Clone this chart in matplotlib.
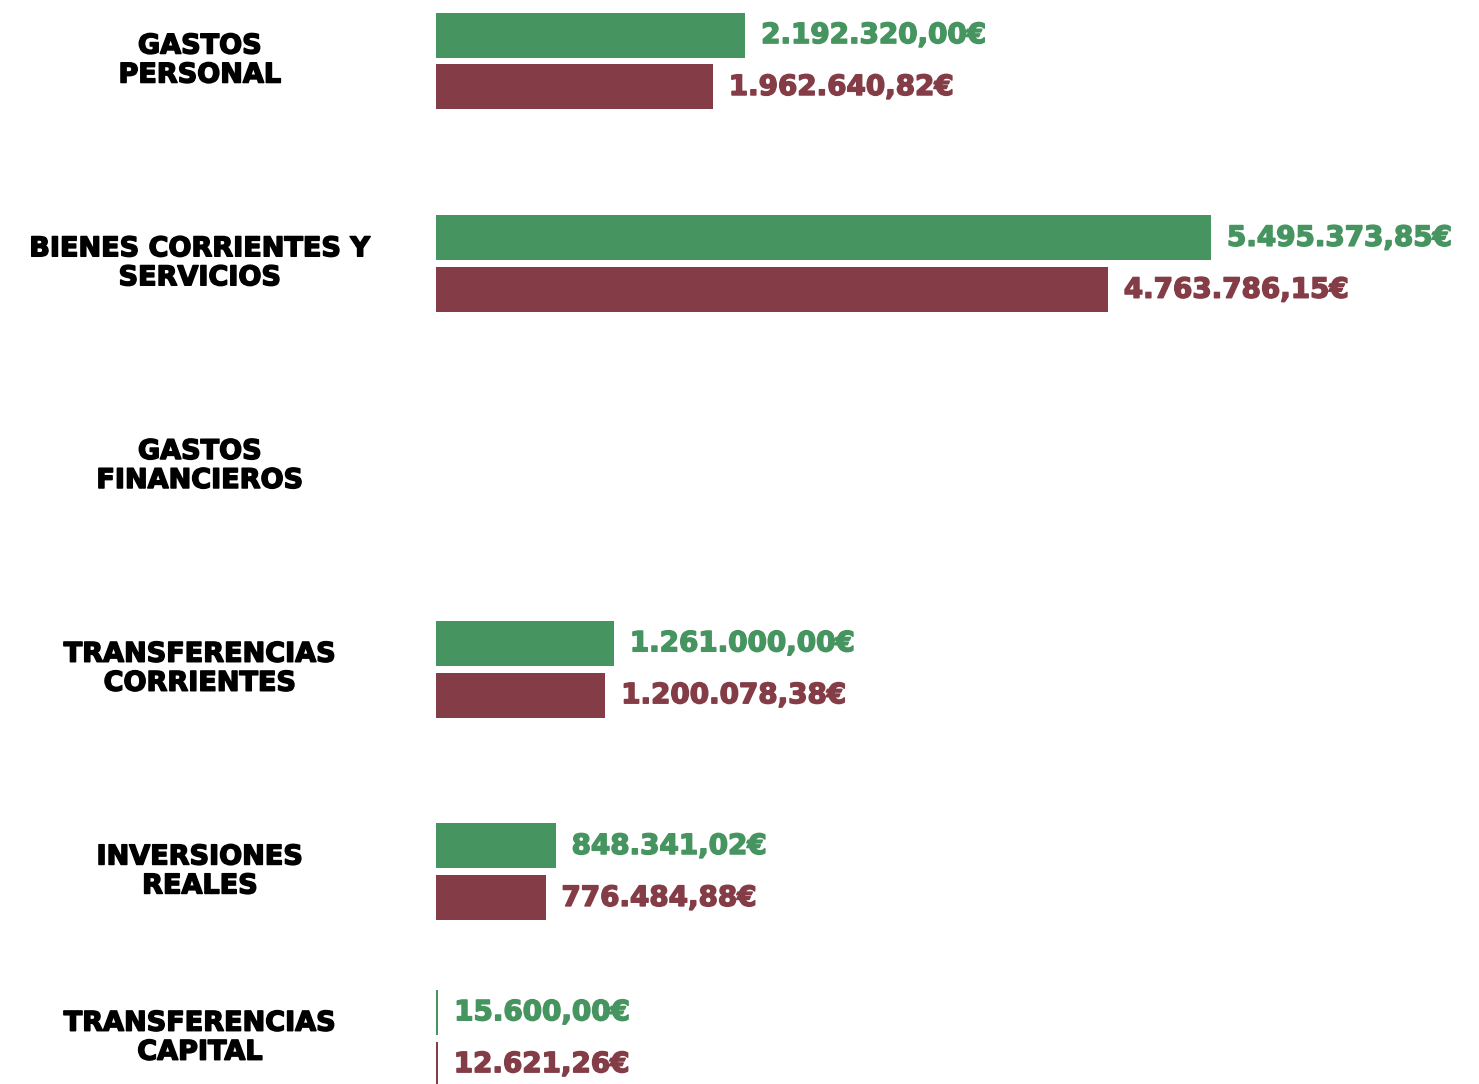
import numpy as np
import matplotlib

matplotlib.use("Agg")
import matplotlib.pyplot as plt
import matplotlib.patheffects as pe

# categories (two-line labels) and the two series
categories = [
    "GASTOS\nPERSONAL",
    "BIENES CORRIENTES Y\nSERVICIOS",
    "GASTOS\nFINANCIEROS",
    "TRANSFERENCIAS\nCORRIENTES",
    "INVERSIONES\nREALES",
    "TRANSFERENCIAS\nCAPITAL",
]
presupuestado = [2192320.00, 5495373.85, None, 1261000.00, 848341.02, 15600.00]
ejecutado = [1962640.82, 4763786.15, None, 1200078.38, 776484.88, 12621.26]

GREEN = "#46945f"
MAROON = "#843d47"
FONT = ["DejaVu Sans"]


def euro(v):
    s = f"{v:,.2f}"
    return s.replace(",", "X").replace(".", ",").replace("X", ".") + "€"


def heavy(color):
    # thicken the bold glyphs a little, the original uses a black-weight face
    return [pe.withStroke(linewidth=1.1, foreground=color)]


fig = plt.figure(figsize=(14.79, 10.84), dpi=100)
ax = fig.add_axes([436 / 1479, 0, 1043 / 1479, 1])

ypos = np.arange(len(categories), dtype=float)
ypos[-1] -= 0.18  # last group sits a little higher
h = 0.222
off = 0.128

for series, color, sign in [(presupuestado, GREEN, -1), (ejecutado, MAROON, 1)]:
    for y, v in zip(ypos, series):
        if v is None:
            continue
        ax.barh(y + sign * off, v, height=h, color=color, left=0)
        ax.annotate(
            euro(v),
            xy=(v, y + sign * off),
            xytext=(11.5, 0),
            textcoords="offset points",
            va="center",
            ha="left",
            color=color,
            fontsize=20,
            fontweight="bold",
            family=FONT,
            path_effects=heavy(color),
            annotation_clip=False,
        )

for y, label in zip(ypos, categories):
    ax.text(
        (200 - 436) / 1043,
        y,
        label,
        transform=ax.get_yaxis_transform(),
        ha="center",
        va="center",
        fontsize=19.5,
        fontweight="bold",
        family=FONT,
        linespacing=1.15,
        color="black",
        path_effects=heavy("black"),
        clip_on=False,
    )

ax.set_xlim(0, 5495373.85 * 1043 / 775)
ax.set_ylim(5.046, -0.301)
ax.axis("off")

fig.savefig("out.png", dpi=100)
